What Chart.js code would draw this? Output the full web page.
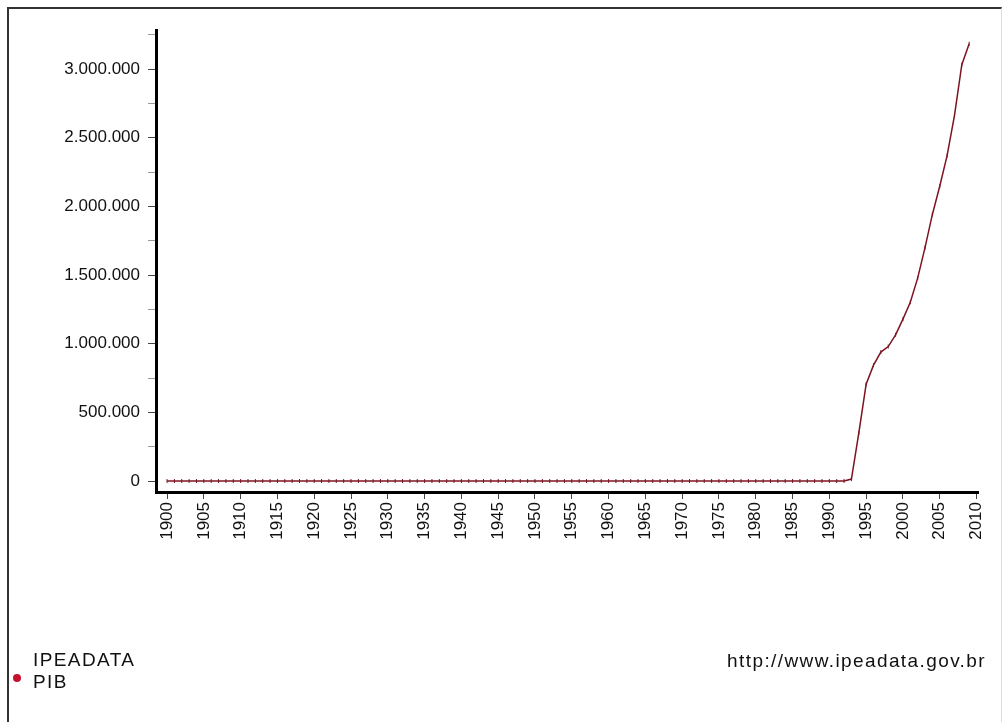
<!DOCTYPE html>
<html>
<head>
<meta charset="utf-8">
<script src="https://cdn.jsdelivr.net/npm/chart.js@4"></script>
<style>
  body { margin: 0; background: #fff; }
  #wrap { position: relative; width: 1002px; height: 722px; overflow: hidden; }
  #frame { position: absolute; left: 7px; top: 7px; width: 992px; height: 720px;
           border-top: 2px solid #333; border-left: 2px solid #333; border-right: 1px solid #ddd; }
  .txt { position: absolute; font-family: "Liberation Sans", Arial, sans-serif; font-size: 19px;
         letter-spacing: 1.4px; color: #111; line-height: 22px; }
  #dot { position: absolute; left: 13px; top: 674px; width: 8px; height: 8px; border-radius: 50%; background: #c8102e; }
</style>
</head>
<body>
<div id="wrap">
  <canvas id="pibChart"></canvas>
  <div id="frame"></div>
  <div id="dot"></div>
  <div class="txt" style="left:33px; top:649px;">IPEADATA</div>
  <div class="txt" style="left:33px; top:671px;">PIB</div>
  <div class="txt" style="right:16px; top:650px;">http://www.ipeadata.gov.br</div>
</div>
<script>
// PIB (R$ milhões, valores correntes) - IPEADATA
const years = [
  1900, 1901, 1902, 1903, 1904, 1905, 1906, 1907, 1908, 1909,
  1910, 1911, 1912, 1913, 1914, 1915, 1916, 1917, 1918, 1919,
  1920, 1921, 1922, 1923, 1924, 1925, 1926, 1927, 1928, 1929,
  1930, 1931, 1932, 1933, 1934, 1935, 1936, 1937, 1938, 1939,
  1940, 1941, 1942, 1943, 1944, 1945, 1946, 1947, 1948, 1949,
  1950, 1951, 1952, 1953, 1954, 1955, 1956, 1957, 1958, 1959,
  1960, 1961, 1962, 1963, 1964, 1965, 1966, 1967, 1968, 1969,
  1970, 1971, 1972, 1973, 1974, 1975, 1976, 1977, 1978, 1979,
  1980, 1981, 1982, 1983, 1984, 1985, 1986, 1987, 1988, 1989,
  1990, 1991, 1992, 1993, 1994, 1995, 1996, 1997, 1998, 1999,
  2000, 2001, 2002, 2003, 2004, 2005, 2006, 2007, 2008, 2009
];
const pib = [
  0, 0, 0, 0, 0, 0, 0, 0, 0, 0,
  0, 0, 0, 0, 0, 0, 0, 0, 0, 0,
  0, 0, 0, 0, 0, 0, 0, 0, 0, 0,
  0, 0, 0, 0, 0, 0, 0, 0, 0, 0,
  0, 0, 0, 0, 0, 0, 0, 0, 0, 0,
  0, 0, 0, 0, 0, 0, 0, 0, 0, 0,
  0, 0, 0, 0, 0, 0, 0, 0, 0, 0,
  0, 0, 0, 0, 0, 0, 0, 0, 0, 0,
  0, 0, 0, 0, 0, 0, 0, 0, 0, 1,
  12, 60, 641, 14097, 349205, 705641, 843966, 939147, 979276, 1064999,
  1179482, 1302136, 1477822, 1699948, 1941498, 2147239, 2369484, 2661344, 3032203, 3185125
];
const yTicks = [0, 250000, 500000, 750000, 1000000, 1250000, 1500000, 1750000,
                2000000, 2250000, 2500000, 2750000, 3000000, 3250000];
const yLabeled = [0, 500000, 1000000, 1500000, 2000000, 2500000, 3000000];
const xTicks = [1900, 1905, 1910, 1915, 1920, 1925, 1930, 1935, 1940, 1945, 1950, 1955,
                1960, 1965, 1970, 1975, 1980, 1985, 1990, 1995, 2000, 2005, 2010];

function formatBR(v) {
  return String(v).replace(/\B(?=(\d{3})+(?!\d))/g, '.');
}

const ctx = document.getElementById('pibChart').getContext('2d');
const chart = new Chart(ctx, {
  type: 'line',
  data: {
    datasets: [{
      label: 'PIB',
      data: years.map((y, i) => ({ x: y, y: pib[i] })),
      borderColor: '#7d1420',
      borderWidth: 1.5,
      pointStyle: 'line',
      rotation: 90,
      pointRadius: 2,
      pointBorderWidth: 1,
      pointBorderColor: '#7d1420',
      tension: 0
    }]
  },
  options: {
    responsive: true,
    maintainAspectRatio: false,
    animation: false,
    layout: { padding: { left: 8, top: 30, right: 24, bottom: 150 } },
    plugins: { legend: { display: false }, tooltip: { enabled: false } },
    scales: {
      x: {
        type: 'linear',
        min: 1898.5,
        max: 2010.2,
        afterBuildTicks: (scale) => { scale.ticks = xTicks.map(v => ({ value: v })); },
        afterFit: (scale) => { scale.height = 80; },
        border: { display: true, color: '#000', width: 3 },
        grid: { drawOnChartArea: false, drawTicks: true, tickLength: 7, color: '#444' },
        ticks: {
          minRotation: 90, maxRotation: 90, padding: 3,
          color: '#111',
          font: { family: '"Liberation Sans", Arial, sans-serif', size: 17 },
          callback: (v) => String(v)
        }
      },
      y: {
        min: -80000,
        max: 3285000,
        afterBuildTicks: (scale) => { scale.ticks = yTicks.map(v => ({ value: v })); },
        afterFit: (scale) => { scale.width = 148; },
        border: { display: true, color: '#000', width: 3 },
        grid: {
          drawOnChartArea: false, drawTicks: true, tickLength: 8,
          color: (c) => yLabeled.includes(c.tick.value) ? '#444' : '#999'
        },
        ticks: {
          padding: 8,
          color: '#111',
          font: { family: '"Liberation Sans", Arial, sans-serif', size: 17 },
          callback: (v) => yLabeled.includes(v) ? formatBR(v) : ''
        }
      }
    }
  }
});
</script>
</body>
</html>
